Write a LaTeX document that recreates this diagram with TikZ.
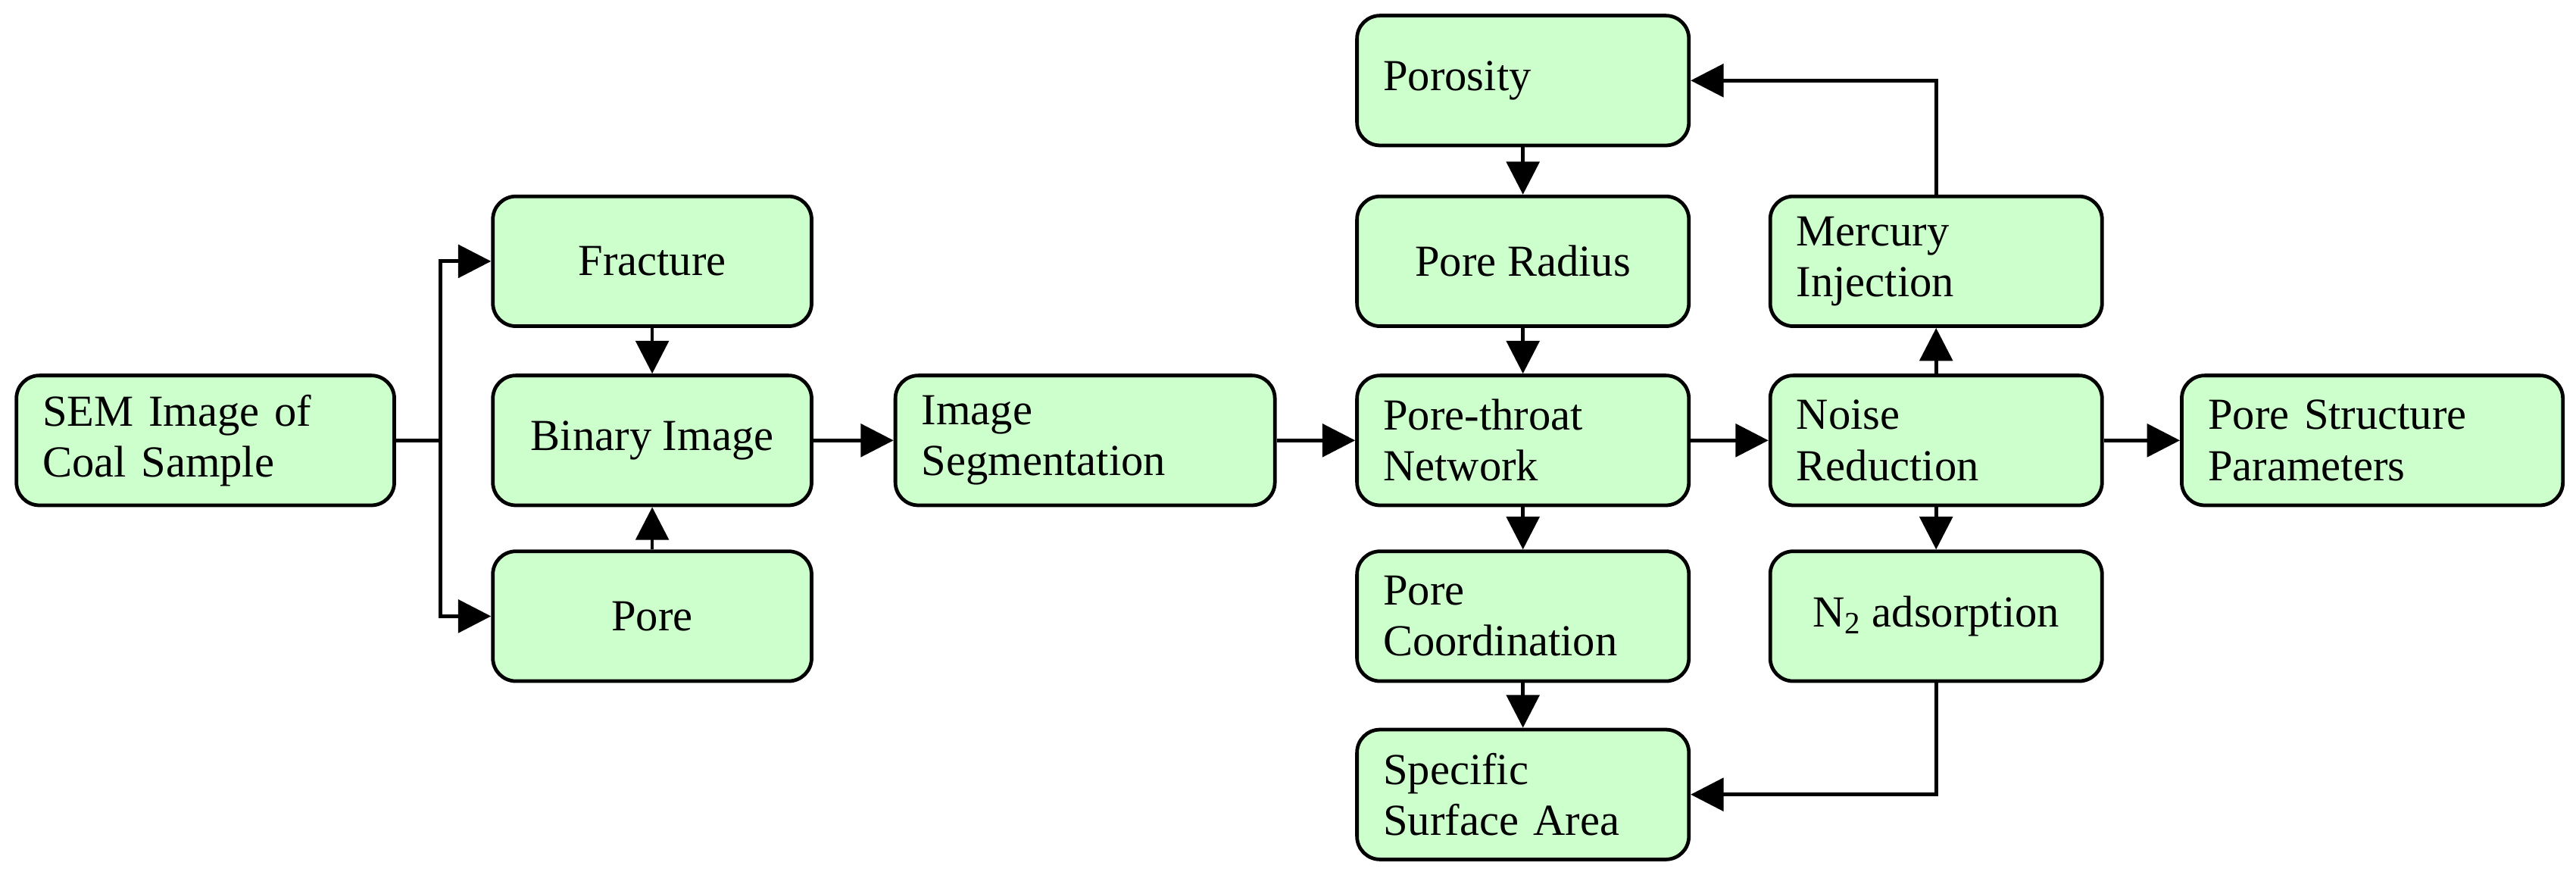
\documentclass[tikz,border=0pt]{standalone}
\usepackage{fontspec}
\setmainfont{Liberation Serif}
\usetikzlibrary{arrows.meta}
\definecolor{boxg}{HTML}{CCFFCC}
\begin{document}
\begin{tikzpicture}[x=1pt,y=-1pt,
  box/.style={draw=black,line width=2.2pt,fill=boxg,rounded corners=14pt,minimum width=#1,minimum height=79pt,inner xsep=16pt,inner ysep=0pt,font=\fontsize{27}{31}\selectfont},
  box/.default=202pt,
  L/.style={align=left,text width=#1},
  L/.default=170pt,
  C/.style={align=center},
  ar/.style={line width=2.2pt,-{Triangle[length=20pt,width=20pt]}}]
\useasboundingbox (0,0) rectangle (1568,530.6);
\node[box=230pt,L=198pt] (sem) at (125,268) {SEM Image of\\Coal Sample};
\node[box=194pt,C] (fra) at (397,159) {Fracture};
\node[box=194pt,C,inner xsep=2pt] (bin) at (397,268) {Binary Image};
\node[box=194pt,C] (por) at (397,375) {Pore};
\node[box=231pt,L=199pt] (seg) at (660.5,268) {Image\\Segmentation};
\node[box,L] (poy) at (927,49) {Porosity};
\node[box,C] (rad) at (927,159) {Pore Radius};
\node[box,L] (net) at (927,268) {Pore-throat\\Network};
\node[box,L,inner xsep=2pt,text width=198pt] (coo) at (927,375) {\hspace*{14pt}Pore\\\hspace*{14pt}Coordination};
\node[box,L] (ssa) at (927,483.5) {Specific\\Surface Area};
\node[box,L] (mer) at (1178.5,159) {Mercury\\Injection};
\node[box,L] (noi) at (1178.5,268) {Noise\\Reduction};
\node[box,C] (n2) at (1178.5,375) {N\textsubscript{2} adsorption};
\node[box=232pt,L=200pt] (psp) at (1444,268) {Pore Structure\\Parameters};
\coordinate (br) at (268,268);
\draw[line width=2.2pt] (sem.east) -- (br);
\draw[ar] (br) |- (fra.west);
\draw[ar] (br) |- (por.west);
\draw[ar] (fra) -- (bin);
\draw[ar] (por) -- (bin);
\draw[ar] (bin) -- (seg);
\draw[ar] (seg) -- (net);
\draw[ar] (poy) -- (rad);
\draw[ar] (rad) -- (net);
\draw[ar] (net) -- (coo);
\draw[ar] (coo) -- (ssa);
\draw[ar] (net) -- (noi);
\draw[ar] (noi) -- (psp);
\draw[ar] (noi) -- (mer);
\draw[ar] (noi) -- (n2);
\draw[ar] (mer.north) |- (poy.east);
\draw[ar] (n2.south) |- (ssa.east);
\end{tikzpicture}
\end{document}
